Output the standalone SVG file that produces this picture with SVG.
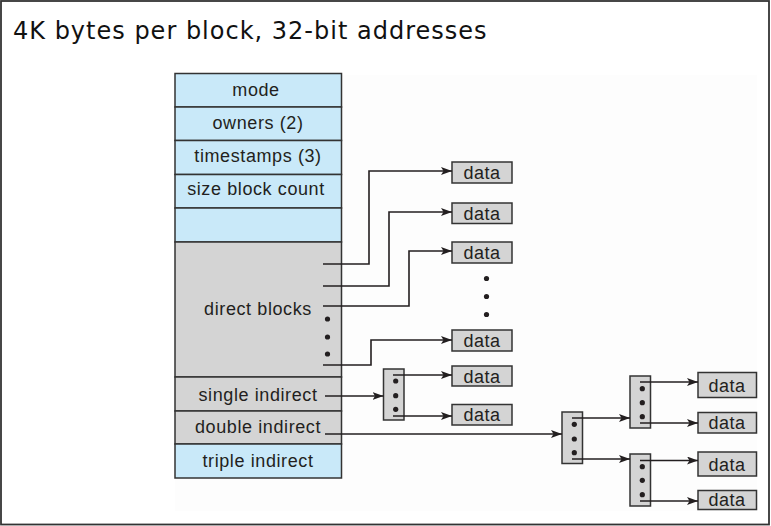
<svg xmlns="http://www.w3.org/2000/svg" width="771" height="526" viewBox="0 0 771 526">
<style>
.lbl{font-family:"Liberation Sans",Arial,sans-serif;font-size:18px;letter-spacing:0.6px;fill:#231f20;text-anchor:middle}
.dl{font-family:"Liberation Sans",Arial,sans-serif;font-size:18px;letter-spacing:0.5px;fill:#231f20;text-anchor:middle}
.blue{fill:#c9e9f9;stroke:#333;stroke-width:1.5}
.gray{fill:#d4d4d4;stroke:#333;stroke-width:1.5}
.box{fill:#d4d4d4;stroke:#333;stroke-width:1.5}
.ind{fill:#d4d4d4;stroke:#333;stroke-width:1.5}
.con{fill:none;stroke:#231f20;stroke-width:1.6}
.arr{marker-end:url(#ah)}
.dot{fill:#231f20}
</style>
<defs>
<marker id="ah" viewBox="0 0 11 8" refX="11" refY="4" markerWidth="11" markerHeight="8" markerUnits="userSpaceOnUse" orient="auto">
<path d="M0,0 L11,4 L0,8 L2.5,4 Z" fill="#231f20"/>
</marker>
</defs>
<rect x="0" y="0" width="771" height="526" fill="#fff"/>
<rect x="175" y="75" width="582" height="436" fill="#fdfdfd"/>
<rect x="1" y="1" width="768" height="523.5" fill="none" stroke="#333" stroke-width="1.8"/>
<text x="13" y="39" font-family="DejaVu Sans,Verdana,sans-serif" font-size="24" letter-spacing="1" fill="#111">4K bytes per block, 32-bit addresses</text>

<g id="inode">
<rect class="blue" x="175" y="73.5" width="166.5" height="33.5"/>
<rect class="blue" x="175" y="107" width="166.5" height="33.5"/>
<rect class="blue" x="175" y="140.5" width="166.5" height="34"/>
<rect class="blue" x="175" y="174.5" width="166.5" height="33.5"/>
<rect class="blue" x="175" y="208" width="166.5" height="34"/>
<rect class="gray" x="175" y="242" width="166.5" height="135"/>
<rect class="gray" x="175" y="377" width="166.5" height="34"/>
<rect class="gray" x="175" y="411" width="166.5" height="33"/>
<rect class="blue" x="175" y="444" width="166.5" height="34"/>
<text class="lbl" x="256" y="96">mode</text>
<text class="lbl" x="258" y="129">owners (2)</text>
<text class="lbl" x="258" y="162">timestamps (3)</text>
<text class="lbl" x="256" y="195">size block count</text>
<text class="lbl" x="258" y="315">direct blocks</text>
<text class="lbl" x="258" y="401">single indirect</text>
<text class="lbl" x="258" y="433">double indirect</text>
<text class="lbl" x="258" y="467">triple indirect</text>
<circle class="dot" cx="327.5" cy="319" r="2.6"/>
<circle class="dot" cx="327.5" cy="337" r="2.6"/>
<circle class="dot" cx="327.5" cy="354" r="2.6"/>
</g>

<g id="data-direct">
<rect class="box" x="452" y="162" width="60" height="21"/><text class="dl" x="482" y="178.5">data</text>
<rect class="box" x="452" y="203" width="60" height="20.5"/><text class="dl" x="482" y="219.5">data</text>
<rect class="box" x="452" y="242" width="60" height="21"/><text class="dl" x="482" y="258.5">data</text>
<circle class="dot" cx="486.5" cy="278.5" r="2.6"/>
<circle class="dot" cx="486.5" cy="296.5" r="2.6"/>
<circle class="dot" cx="486.5" cy="314.5" r="2.6"/>
<rect class="box" x="452" y="330" width="60" height="21"/><text class="dl" x="482" y="346.5">data</text>
</g>

<g id="single-indirect">
<rect class="ind" x="383.5" y="369" width="20.5" height="51"/>
<circle class="dot" cx="395.7" cy="381" r="2.6"/>
<circle class="dot" cx="395.7" cy="395.7" r="2.6"/>
<circle class="dot" cx="395.7" cy="409.3" r="2.6"/>
<rect class="box" x="452" y="366" width="60" height="20"/><text class="dl" x="482" y="382.5">data</text>
<rect class="box" x="452" y="404.5" width="60" height="20.5"/><text class="dl" x="482" y="420.5">data</text>
</g>

<g id="double-indirect">
<rect class="ind" x="562" y="412" width="20.5" height="51.5"/>
<circle class="dot" cx="574.3" cy="424.3" r="2.6"/>
<circle class="dot" cx="574.3" cy="439" r="2.6"/>
<circle class="dot" cx="574.3" cy="452.7" r="2.6"/>
<rect class="ind" x="630" y="376" width="20.5" height="52"/>
<circle class="dot" cx="642.3" cy="388.7" r="2.6"/>
<circle class="dot" cx="642.3" cy="402.7" r="2.6"/>
<circle class="dot" cx="642.3" cy="416.7" r="2.6"/>
<rect class="ind" x="630" y="454" width="20.5" height="52"/>
<circle class="dot" cx="642.3" cy="466.7" r="2.6"/>
<circle class="dot" cx="642.3" cy="480.3" r="2.6"/>
<circle class="dot" cx="642.3" cy="494.7" r="2.6"/>
<rect class="box" x="698" y="372.5" width="58.5" height="25"/><text class="dl" x="727" y="391.5">data</text>
<rect class="box" x="698" y="412.5" width="58.5" height="20.5"/><text class="dl" x="727" y="428.5">data</text>
<rect class="box" x="698" y="452" width="58.5" height="24"/><text class="dl" x="727" y="470.5">data</text>
<rect class="box" x="698" y="490.5" width="58.5" height="19"/><text class="dl" x="727" y="506">data</text>
</g>

<g id="connectors">
<path class="con arr" d="M323,264 H369 V171 H452"/>
<path class="con arr" d="M323,286 H389 V212 H452"/>
<path class="con arr" d="M323,306 H409 V251 H452"/>
<path class="con arr" d="M323,365 H371 V340 H452"/>
<path class="con arr" d="M325,396 H383.5"/>
<path class="con arr" d="M393,375 H452"/>
<path class="con arr" d="M393,416 H452"/>
<path class="con arr" d="M325,434 H562"/>
<path class="con arr" d="M572,418 H630"/>
<path class="con arr" d="M572,459 H630"/>
<path class="con arr" d="M640,382 H698"/>
<path class="con arr" d="M640,423 H698"/>
<path class="con arr" d="M640,460.5 H698"/>
<path class="con arr" d="M640,501 H698"/>
</g>
</svg>
